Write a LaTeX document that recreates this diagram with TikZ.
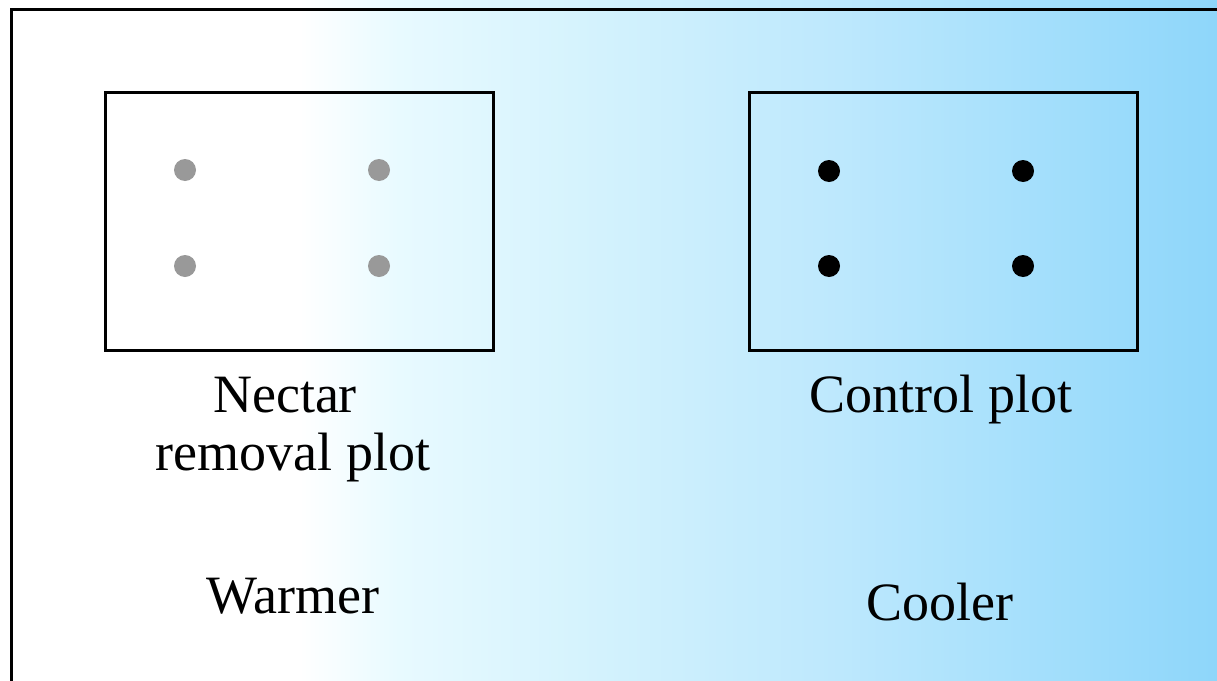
\documentclass[tikz,border=0pt]{standalone}
\usepackage{fontspec}
\setmainfont{Liberation Serif}
\pgfdeclarehorizontalshading{bgshade}{100bp}{%
color(0bp)=(white);
color(25bp)=(white);
color(37.3bp)=(white);
color(41.4bp)=(rgb,255:red,232;green,250;blue,255);
color(49.7bp)=(rgb,255:red,211;green,242;blue,253);
color(59.5bp)=(rgb,255:red,189;green,232;blue,253);
color(66.1bp)=(rgb,255:red,169;green,225;blue,252);
color(75bp)=(rgb,255:red,142;green,214;blue,250);
color(100bp)=(rgb,255:red,142;green,214;blue,250)}
\definecolor{dotgray}{RGB}{153,153,153}
\tikzset{
  plotbox/.style={draw=black, line width=3pt, minimum width=388pt, minimum height=258pt, inner sep=0pt, anchor=north west},
  graydot/.style={circle, fill=dotgray, minimum size=22pt, inner sep=0pt},
  blackdot/.style={circle, fill=black, minimum size=22pt, inner sep=0pt},
  lbl/.style={font=\fontsize{54}{58}\selectfont, align=center, inner sep=0pt, anchor=base}
}
\begin{document}
\begin{tikzpicture}[x=1pt,y=-1pt]
\useasboundingbox (0,0) rectangle (1217,680);
\shade[shading=bgshade] (0,0) rectangle (1217,680);
\coordinate (fbl) at (11,700);
\coordinate (ftl) at (11,9);
\coordinate (ftr) at (1240,9);
\draw[line width=3pt] (fbl) -- (ftl) -- (ftr);
\node[plotbox] (lbox) at (104,91) {};
\node[plotbox] (rbox) at (748,91) {};
\node[graydot] (l1) at (185,170) {};
\node[graydot] (l2) at (379,170) {};
\node[graydot] (l3) at (185,266) {};
\node[graydot] (l4) at (379,266) {};
\node[blackdot] (r1) at (829,171) {};
\node[blackdot] (r2) at (1023,171) {};
\node[blackdot] (r3) at (829,266) {};
\node[blackdot] (r4) at (1023,266) {};
\node[lbl] (nectar) at (285,412) {Nectar};
\node[lbl] (removal) at (293,470) {removal plot};
\node[lbl] (control) at (941,412) {Control plot};
\node[lbl] (warmer) at (293,613) {Warmer};
\node[lbl] (cooler) at (940,620) {Cooler};
\end{tikzpicture}
\end{document}
